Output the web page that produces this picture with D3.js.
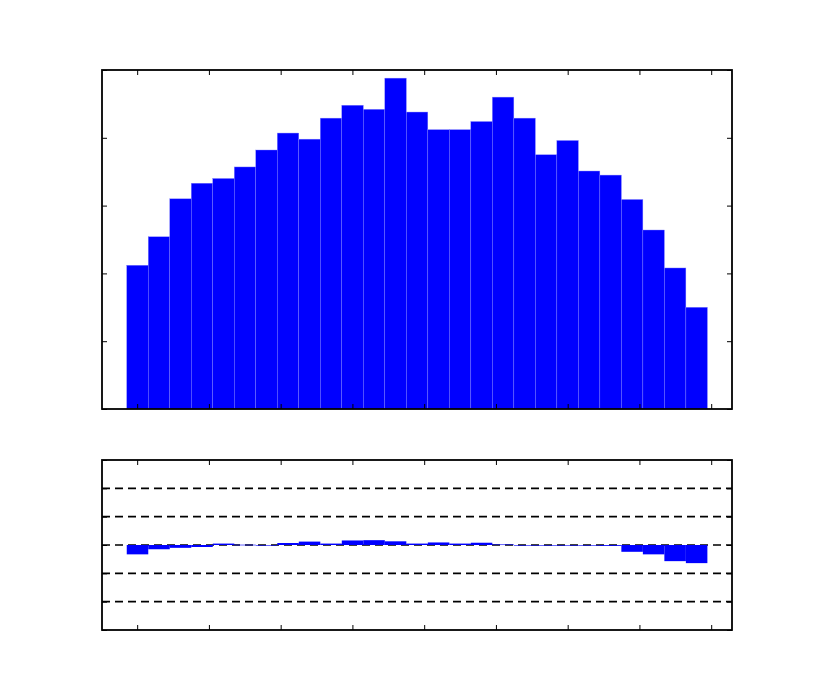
<!DOCTYPE html>
<html>
<head>
  <style>
    body { margin: 0; background: #fff; }
  </style>
</head>
<body>
  <svg width="814" height="700"></svg>
  <script src="https://d3js.org/d3.v7.min.js"></script>
  <script>
    // histogram counts (top panel), one per bin
    const counts = [2.12, 2.54, 3.10, 3.33, 3.40, 3.57, 3.82, 4.07, 3.98, 4.29,
                    4.48, 4.42, 4.88, 4.38, 4.12, 4.12, 4.24, 4.60, 4.29, 3.75,
                    3.96, 3.51, 3.45, 3.09, 2.64, 2.08, 1.50];
    // residuals (bottom panel), one per bin
    const residuals = [-0.33, -0.15, -0.10, -0.07, 0.05, 0.01, -0.02, 0.07, 0.12, 0.05,
                       0.16, 0.17, 0.13, 0.05, 0.09, 0.05, 0.08, 0.02, -0.02, -0.02,
                       -0.02, 0.00, -0.03, -0.24, -0.33, -0.57, -0.64];
    const binStart = -0.145;
    const binWidth = 0.2997;
    const xTicks = [0, 1, 2, 3, 4, 5, 6, 7, 8];
    const topYTicks = [0, 1, 2, 3, 4, 5];
    const botYTicks = [-3, -2, -1, 0, 1, 2, 3];
    const gridLines = [-2, -1, 0, 1, 2];

    const svg = d3.select("svg");
    const blue = "#0000ff";

    const x = d3.scaleLinear().domain([-0.49, 8.29]).range([102, 732]);
    const yTop = d3.scaleLinear().domain([0, 5]).range([409, 70]);
    const yBot = d3.scaleLinear().domain([-3, 3]).range([630, 460]);

    const bins = counts.map((c, i) => ({ x0: binStart + i * binWidth, x1: binStart + (i + 1) * binWidth, c, r: residuals[i] }));

    function panel(y, top, bottom, yTicks) {
      const g = svg.append("g");
      const tl = 5;
      // inward ticks on all four sides
      g.append("g").attr("transform", `translate(0,${bottom})`)
        .call(d3.axisBottom(x).tickValues(xTicks).tickSize(-tl).tickFormat(""));
      g.append("g").attr("transform", `translate(0,${top})`)
        .call(d3.axisTop(x).tickValues(xTicks).tickSize(-tl).tickFormat(""));
      g.append("g").attr("transform", `translate(102,0)`)
        .call(d3.axisLeft(y).tickValues(yTicks).tickSize(-tl).tickFormat(""));
      g.append("g").attr("transform", `translate(732,0)`)
        .call(d3.axisRight(y).tickValues(yTicks).tickSize(-tl).tickFormat(""));
      g.selectAll(".domain").remove();
      g.selectAll(".tick line").attr("stroke", "#000").attr("stroke-width", 1);
      return g;
    }

    // top panel bars
    svg.append("g").selectAll("rect")
      .data(bins).join("rect")
      .attr("x", d => x(d.x0))
      .attr("width", d => x(d.x1) - x(d.x0))
      .attr("y", d => yTop(d.c))
      .attr("height", d => yTop(0) - yTop(d.c))
      .attr("fill", blue)
      .attr("stroke", "#8080ff")
      .attr("stroke-width", 0.4);

    panel(yTop, 70, 409, topYTicks);
    svg.append("rect").attr("x", 102).attr("y", 70).attr("width", 630).attr("height", 339)
      .attr("fill", "none").attr("stroke", "#000").attr("stroke-width", 1.8);

    // bottom panel grid
    svg.append("g").selectAll("line")
      .data(gridLines).join("line")
      .attr("x1", 102).attr("x2", 732)
      .attr("y1", d => yBot(d)).attr("y2", d => yBot(d))
      .attr("stroke", "#000").attr("stroke-width", 1.6)
      .attr("stroke-dasharray", "8,5");

    svg.append("g").selectAll("rect")
      .data(bins).join("rect")
      .attr("x", d => x(d.x0))
      .attr("width", d => x(d.x1) - x(d.x0))
      .attr("y", d => yBot(Math.max(0, d.r)))
      .attr("height", d => Math.max(0.6, Math.abs(yBot(d.r) - yBot(0))))
      .attr("fill", blue)
      .attr("stroke", "none");

    panel(yBot, 460, 630, botYTicks);
    svg.append("rect").attr("x", 102).attr("y", 460).attr("width", 630).attr("height", 170)
      .attr("fill", "none").attr("stroke", "#000").attr("stroke-width", 1.8);
  </script>
</body>
</html>
